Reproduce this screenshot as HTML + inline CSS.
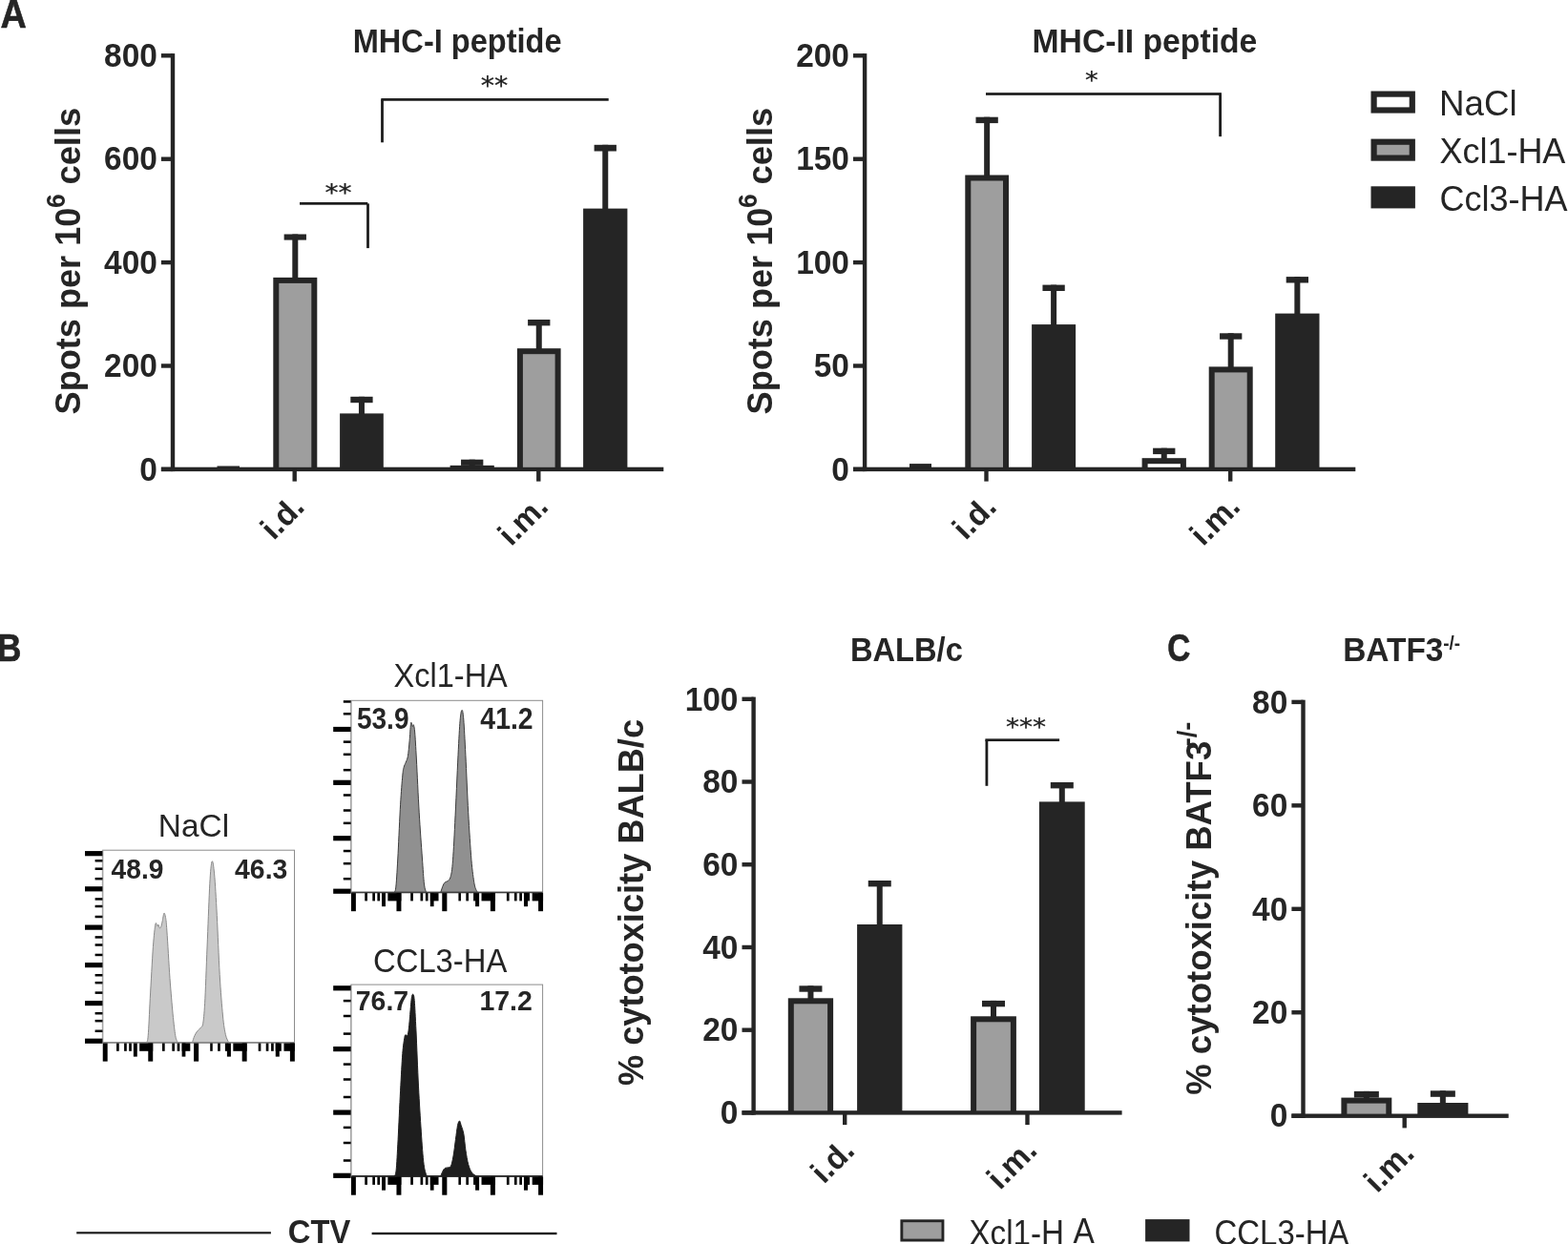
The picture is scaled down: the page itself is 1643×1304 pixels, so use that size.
<!DOCTYPE html>
<html lang="en">
<head>
<meta charset="utf-8">
<title>Figure</title>
<style>
html,body{margin:0;padding:0;background:#fff;}
body{width:1643px;height:1304px;overflow:hidden;}
svg{display:block;font-family:"Liberation Sans",sans-serif;}
</style>
</head>
<body>
<svg width="1643" height="1304" viewBox="0 0 1643 1304" role="img" aria-label="Figure panels A, B and C">
<rect width="1643" height="1304" fill="#ffffff"/>
<text transform="translate(0.43 28.70) scale(0.9692 1.0729)" font-size="39" font-weight="bold" fill="#252525" stroke="#252525" stroke-width="0.6" stroke-linejoin="round">A</text>
<text transform="translate(-3.28 692.80) scale(0.9125 1.0617)" font-size="39" font-weight="bold" fill="#252525" stroke="#252525" stroke-width="0.6" stroke-linejoin="round">B</text>
<text transform="translate(1223.32 692.54) scale(0.8549 1.0400)" font-size="39" font-weight="bold" fill="#252525" stroke="#252525" stroke-width="0.6" stroke-linejoin="round">C</text>
<rect x="178.80" y="56.10" width="4.40" height="438.00" fill="#252525"/>
<rect x="168.90" y="56.10" width="12.10" height="4.40" fill="#252525"/>
<text transform="translate(109.06 70.08) scale(1.0450 1.0889)" font-size="32" font-weight="bold" fill="#252525">800</text>
<rect x="168.90" y="164.50" width="12.10" height="4.40" fill="#252525"/>
<text transform="translate(109.06 178.48) scale(1.0450 1.0889)" font-size="32" font-weight="bold" fill="#252525">600</text>
<rect x="168.90" y="272.90" width="12.10" height="4.40" fill="#252525"/>
<text transform="translate(109.06 286.88) scale(1.0450 1.0889)" font-size="32" font-weight="bold" fill="#252525">400</text>
<rect x="168.90" y="381.30" width="12.10" height="4.40" fill="#252525"/>
<text transform="translate(109.06 395.28) scale(1.0450 1.0889)" font-size="32" font-weight="bold" fill="#252525">200</text>
<rect x="168.90" y="489.70" width="12.10" height="4.40" fill="#252525"/>
<text transform="translate(146.16 503.68) scale(1.0450 1.0889)" font-size="32" font-weight="bold" fill="#252525">0</text>
<rect x="168.90" y="489.70" width="526.40" height="4.40" fill="#252525"/>
<rect x="306.50" y="491.90" width="4.40" height="12.70" fill="#252525"/>
<rect x="562.10" y="491.90" width="4.40" height="12.70" fill="#252525"/>
<text transform="translate(369.71 55.15) scale(1.0182 1.0842)" font-size="32" font-weight="bold" fill="#252525">MHC-I peptide</text>
<text transform="translate(83.58 434.40) scale(1.0290 1.0033) rotate(-90)" font-size="36" font-weight="bold" fill="#252525">Spots per 10<tspan x="215.82" y="-15.21" font-size="26.29">6</tspan> <tspan x="240.10" y="0.55" font-size="36.21">cells</tspan></text>
<text transform="translate(286.63 567.18) scale(1.0421 1.0421) rotate(-45)" font-size="32" font-weight="bold" fill="#252525">i.d.</text>
<text transform="translate(535.49 573.58) scale(1.0407 1.0407) rotate(-45)" font-size="32" font-weight="bold" fill="#252525">i.m.</text>
<rect x="227.50" y="488.50" width="23.50" height="2.00" fill="#252525"/>
<rect x="297.65" y="245.50" width="23.30" height="6.10" fill="#252525"/>
<rect x="306.30" y="245.50" width="6.00" height="46.40" fill="#252525"/>
<rect x="286.30" y="290.90" width="46.00" height="201.00" fill="#252525"/>
<rect x="292.30" y="296.90" width="34.00" height="192.90" fill="#9e9e9e"/>
<rect x="367.30" y="415.80" width="23.30" height="6.40" fill="#252525"/>
<rect x="375.95" y="415.80" width="6.00" height="18.60" fill="#252525"/>
<rect x="356.10" y="433.40" width="45.70" height="58.50" fill="#252525"/>
<rect x="483.05" y="481.70" width="23.30" height="6.20" fill="#252525"/>
<rect x="491.70" y="481.70" width="6.00" height="7.20" fill="#252525"/>
<rect x="471.60" y="487.90" width="46.20" height="4.00" fill="#252525"/>
<rect x="553.10" y="335.00" width="23.30" height="6.40" fill="#252525"/>
<rect x="561.75" y="335.00" width="6.00" height="31.20" fill="#252525"/>
<rect x="541.90" y="365.20" width="45.70" height="126.70" fill="#252525"/>
<rect x="547.90" y="371.20" width="33.70" height="118.60" fill="#9e9e9e"/>
<rect x="622.60" y="151.80" width="23.30" height="6.70" fill="#252525"/>
<rect x="631.25" y="151.80" width="6.00" height="67.80" fill="#252525"/>
<rect x="611.10" y="218.60" width="46.30" height="273.30" fill="#252525"/>
<rect x="314.00" y="212.00" width="71.30" height="2.70" fill="#1c1c1c"/>
<rect x="384.10" y="213.40" width="2.80" height="46.70" fill="#1c1c1c"/>
<text transform="translate(340.53 209.64) scale(0.9704 0.8528)" font-size="29" font-weight="normal" fill="#1c1c1c" stroke="#1c1c1c" stroke-width="0.25" stroke-linejoin="round" style="font-family:'DejaVu Sans',sans-serif">**</text>
<rect x="399.30" y="103.05" width="238.40" height="2.70" fill="#1c1c1c"/>
<rect x="399.10" y="104.40" width="2.80" height="44.90" fill="#1c1c1c"/>
<text transform="translate(503.81 98.55) scale(0.9852 0.8906)" font-size="29" font-weight="normal" fill="#1c1c1c" stroke="#1c1c1c" stroke-width="0.25" stroke-linejoin="round" style="font-family:'DejaVu Sans',sans-serif">**</text>
<rect x="903.90" y="56.10" width="4.40" height="438.00" fill="#252525"/>
<rect x="894.00" y="56.10" width="12.10" height="4.40" fill="#252525"/>
<text transform="translate(834.16 70.08) scale(1.0450 1.0889)" font-size="32" font-weight="bold" fill="#252525">200</text>
<rect x="894.00" y="164.50" width="12.10" height="4.40" fill="#252525"/>
<text transform="translate(834.16 178.48) scale(1.0450 1.0889)" font-size="32" font-weight="bold" fill="#252525">150</text>
<rect x="894.00" y="272.90" width="12.10" height="4.40" fill="#252525"/>
<text transform="translate(834.16 286.88) scale(1.0450 1.0889)" font-size="32" font-weight="bold" fill="#252525">100</text>
<rect x="894.00" y="381.30" width="12.10" height="4.40" fill="#252525"/>
<text transform="translate(852.71 395.28) scale(1.0450 1.0889)" font-size="32" font-weight="bold" fill="#252525">50</text>
<rect x="894.00" y="489.70" width="12.10" height="4.40" fill="#252525"/>
<text transform="translate(871.26 503.68) scale(1.0450 1.0889)" font-size="32" font-weight="bold" fill="#252525">0</text>
<rect x="894.00" y="489.70" width="526.30" height="4.40" fill="#252525"/>
<rect x="1031.30" y="491.90" width="4.40" height="12.70" fill="#252525"/>
<rect x="1287.00" y="491.90" width="4.40" height="12.70" fill="#252525"/>
<text transform="translate(1081.53 55.15) scale(1.0532 1.0842)" font-size="32" font-weight="bold" fill="#252525">MHC-II peptide</text>
<text transform="translate(808.68 434.40) scale(1.0290 1.0033) rotate(-90)" font-size="36" font-weight="bold" fill="#252525">Spots per 10<tspan x="215.82" y="-15.21" font-size="26.29">6</tspan> <tspan x="240.10" y="0.55" font-size="36.21">cells</tspan></text>
<text transform="translate(1011.73 567.18) scale(1.0421 1.0421) rotate(-45)" font-size="32" font-weight="bold" fill="#252525">i.d.</text>
<text transform="translate(1260.59 573.58) scale(1.0407 1.0407) rotate(-45)" font-size="32" font-weight="bold" fill="#252525">i.m.</text>
<rect x="953.00" y="486.10" width="23.00" height="4.40" fill="#252525"/>
<rect x="1022.50" y="122.70" width="23.30" height="6.40" fill="#252525"/>
<rect x="1031.15" y="122.70" width="6.00" height="61.80" fill="#252525"/>
<rect x="1011.30" y="183.50" width="45.70" height="308.40" fill="#252525"/>
<rect x="1017.30" y="189.50" width="33.70" height="300.30" fill="#9e9e9e"/>
<rect x="1092.45" y="298.60" width="23.30" height="6.40" fill="#252525"/>
<rect x="1101.10" y="298.60" width="6.00" height="42.50" fill="#252525"/>
<rect x="1081.10" y="340.10" width="46.00" height="151.80" fill="#252525"/>
<rect x="1208.10" y="469.70" width="23.30" height="6.40" fill="#252525"/>
<rect x="1216.75" y="469.70" width="6.00" height="11.50" fill="#252525"/>
<rect x="1196.60" y="480.20" width="46.30" height="11.70" fill="#252525"/>
<rect x="1202.60" y="486.20" width="34.30" height="3.60" fill="#ffffff"/>
<rect x="1278.05" y="349.30" width="23.30" height="6.40" fill="#252525"/>
<rect x="1286.70" y="349.30" width="6.00" height="36.10" fill="#252525"/>
<rect x="1266.70" y="384.40" width="46.00" height="107.50" fill="#252525"/>
<rect x="1272.70" y="390.40" width="34.00" height="99.40" fill="#9e9e9e"/>
<rect x="1347.70" y="290.10" width="23.30" height="6.40" fill="#252525"/>
<rect x="1356.35" y="290.10" width="6.00" height="39.50" fill="#252525"/>
<rect x="1336.20" y="328.60" width="46.30" height="163.30" fill="#252525"/>
<rect x="1033.00" y="97.15" width="246.90" height="2.70" fill="#1c1c1c"/>
<rect x="1277.20" y="98.50" width="2.80" height="44.60" fill="#1c1c1c"/>
<text transform="translate(1136.96 92.04) scale(0.9440 0.8528)" font-size="29" font-weight="normal" fill="#1c1c1c" stroke="#1c1c1c" stroke-width="0.25" stroke-linejoin="round" style="font-family:'DejaVu Sans',sans-serif">*</text>
<rect x="1436.50" y="95.50" width="46.40" height="23.10" fill="#252525"/>
<rect x="1442.70" y="101.70" width="34.00" height="10.70" fill="#fff"/>
<rect x="1436.50" y="145.60" width="46.40" height="23.10" fill="#252525"/>
<rect x="1442.70" y="151.80" width="34.00" height="10.70" fill="#9e9e9e"/>
<rect x="1436.50" y="195.30" width="46.40" height="23.10" fill="#252525"/>
<text transform="translate(1507.94 120.70) scale(1.0201 1.0263)" font-size="36" font-weight="normal" fill="#252525">NaCl</text>
<text transform="translate(1508.40 170.80) scale(1.0000 1.0303)" font-size="36" font-weight="normal" fill="#252525">Xcl1-HA</text>
<text transform="translate(1508.45 220.50) scale(1.0000 1.0263)" font-size="36" font-weight="normal" fill="#252525">Ccl3-HA</text>
<rect x="107.60" y="891.20" width="200.90" height="201.70" fill="#fff" stroke="#8c8c8c" stroke-width="1"/>
<path d="M153.2,1092.9 C153.5,1091.7 154.6,1093.5 155.2,1085.7 C155.9,1077.9 156.5,1061.9 157.3,1046.3 C158.2,1030.8 159.5,1005.5 160.4,992.5 C161.4,979.6 162.2,972.3 162.9,968.7 C163.6,965.1 164.3,970.7 164.8,970.8 C165.3,970.9 165.6,969.0 166.0,969.3 C166.4,969.7 166.8,972.5 167.3,972.8 C167.7,973.2 168.2,972.6 168.7,971.4 C169.2,970.2 169.6,967.9 170.2,965.6 C170.7,963.3 171.3,958.0 171.8,957.3 C172.4,956.6 172.9,958.4 173.5,961.5 C174.0,964.6 174.2,965.3 174.9,976.0 C175.7,986.6 177.0,1011.2 178.0,1025.6 C179.1,1040.1 180.2,1052.9 181.1,1062.9 C182.1,1072.9 183.0,1080.7 183.8,1085.7 C184.7,1090.7 185.9,1091.7 186.3,1092.9 Z" fill="#c9c9c9" stroke="#8a8a8a" stroke-width="1" stroke-linejoin="round"/>
<path d="M201.4,1092.9 C201.8,1091.7 203.0,1087.7 203.9,1085.7 C204.8,1083.7 205.6,1082.5 206.6,1081.1 C207.6,1079.8 209.1,1078.9 210.1,1077.4 C211.2,1075.9 212.0,1077.4 212.8,1072.2 C213.6,1067.1 214.1,1061.0 214.9,1046.3 C215.6,1031.7 216.5,1004.2 217.4,984.2 C218.2,964.2 219.1,939.8 219.8,926.3 C220.6,912.7 221.3,904.8 222.1,903.1 C222.9,901.3 223.7,906.5 224.6,915.9 C225.5,925.3 226.4,941.8 227.3,959.4 C228.2,977.0 229.2,1003.9 230.2,1021.5 C231.2,1039.1 232.5,1054.5 233.5,1065.0 C234.5,1075.5 235.4,1080.0 236.4,1084.7 C237.4,1089.3 239.2,1091.6 239.7,1092.9 Z" fill="#c9c9c9" stroke="#8a8a8a" stroke-width="1" stroke-linejoin="round"/>
<rect x="107.60" y="1092.00" width="200.90" height="1.7" fill="#8a8a8a"/>
<rect x="106.80" y="891.20" width="1.5" height="201.70" fill="#a6a6a6"/>
<rect x="89.00" y="892.08" width="18.40" height="5.20" fill="#000"/>
<rect x="89.00" y="929.20" width="18.40" height="5.20" fill="#000"/>
<rect x="89.00" y="969.52" width="18.40" height="5.20" fill="#000"/>
<rect x="89.00" y="1009.00" width="18.40" height="5.20" fill="#000"/>
<rect x="89.00" y="1048.99" width="18.40" height="5.20" fill="#000"/>
<rect x="89.00" y="1088.64" width="18.40" height="5.20" fill="#000"/>
<rect x="99.60" y="901.02" width="7.80" height="2.50" fill="#000"/>
<rect x="99.60" y="909.46" width="7.80" height="2.50" fill="#000"/>
<rect x="99.60" y="919.92" width="7.80" height="2.50" fill="#000"/>
<rect x="99.60" y="941.18" width="7.80" height="2.50" fill="#000"/>
<rect x="99.60" y="948.77" width="7.80" height="2.50" fill="#000"/>
<rect x="99.60" y="959.74" width="7.80" height="2.50" fill="#000"/>
<rect x="99.60" y="981.16" width="7.80" height="2.50" fill="#000"/>
<rect x="99.60" y="989.26" width="7.80" height="2.50" fill="#000"/>
<rect x="99.60" y="999.72" width="7.80" height="2.50" fill="#000"/>
<rect x="99.60" y="1020.98" width="7.80" height="2.50" fill="#000"/>
<rect x="99.60" y="1028.91" width="7.80" height="2.50" fill="#000"/>
<rect x="99.60" y="1039.37" width="7.80" height="2.50" fill="#000"/>
<rect x="99.60" y="1060.97" width="7.80" height="2.50" fill="#000"/>
<rect x="99.60" y="1068.90" width="7.80" height="2.50" fill="#000"/>
<rect x="99.60" y="1079.53" width="7.80" height="2.50" fill="#000"/>
<rect x="107.73" y="1093.50" width="4.95" height="19.10" fill="#000"/>
<rect x="155.27" y="1093.50" width="4.95" height="19.10" fill="#000"/>
<rect x="203.07" y="1093.50" width="5.09" height="19.10" fill="#000"/>
<rect x="253.69" y="1093.50" width="4.95" height="19.10" fill="#000"/>
<rect x="303.90" y="1093.50" width="4.95" height="19.10" fill="#000"/>
<rect x="139.87" y="1093.50" width="3.88" height="14.10" fill="#000"/>
<rect x="190.62" y="1093.50" width="3.75" height="14.10" fill="#000"/>
<rect x="237.89" y="1093.50" width="4.02" height="14.10" fill="#000"/>
<rect x="288.77" y="1093.50" width="4.02" height="14.10" fill="#000"/>
<rect x="122.06" y="1093.50" width="2.68" height="8.30" fill="#000"/>
<rect x="130.10" y="1093.50" width="2.68" height="8.30" fill="#000"/>
<rect x="135.18" y="1093.50" width="2.68" height="8.30" fill="#000"/>
<rect x="146.16" y="1093.50" width="14.06" height="8.30" fill="#000"/>
<rect x="170.00" y="1093.50" width="2.68" height="8.30" fill="#000"/>
<rect x="180.31" y="1093.50" width="2.68" height="8.30" fill="#000"/>
<rect x="185.67" y="1093.50" width="2.68" height="8.30" fill="#000"/>
<rect x="190.62" y="1093.50" width="8.70" height="8.30" fill="#000"/>
<rect x="220.21" y="1093.50" width="2.54" height="8.30" fill="#000"/>
<rect x="228.11" y="1093.50" width="2.68" height="8.30" fill="#000"/>
<rect x="235.88" y="1093.50" width="2.68" height="8.30" fill="#000"/>
<rect x="244.32" y="1093.50" width="14.33" height="8.30" fill="#000"/>
<rect x="270.70" y="1093.50" width="2.68" height="8.30" fill="#000"/>
<rect x="278.73" y="1093.50" width="2.68" height="8.30" fill="#000"/>
<rect x="284.09" y="1093.50" width="2.68" height="8.30" fill="#000"/>
<rect x="288.77" y="1093.50" width="6.03" height="8.30" fill="#000"/>
<rect x="297.48" y="1093.50" width="11.38" height="8.30" fill="#000"/>
<text transform="translate(165.82 876.50) scale(1.0125 1.0330)" font-size="33" font-weight="normal" fill="#252525">NaCl</text>
<text transform="translate(116.58 920.72) scale(1.0431 1.1263)" font-size="27" font-weight="bold" fill="#252525">48.9</text>
<text transform="translate(246.07 920.72) scale(1.0510 1.1263)" font-size="27" font-weight="bold" fill="#252525">46.3</text>
<rect x="367.80" y="734.30" width="200.80" height="201.20" fill="#fff" stroke="#8c8c8c" stroke-width="1"/>
<path d="M413.0,935.5 C413.3,934.4 414.2,935.9 414.9,929.1 C415.6,922.3 416.3,909.0 417.1,894.7 C417.8,880.4 418.8,856.8 419.6,843.2 C420.4,829.6 421.2,819.6 421.8,813.1 C422.4,806.7 422.5,806.9 423.1,804.5 C423.6,802.2 424.5,801.1 425.2,799.2 C425.9,797.2 426.7,796.5 427.4,792.7 C428.0,789.0 428.6,782.2 429.1,776.6 C429.6,771.1 430.0,762.6 430.4,759.4 C430.7,756.3 430.9,757.4 431.2,757.7 C431.5,758.1 431.9,761.2 432.3,761.6 C432.7,762.0 433.0,758.8 433.4,759.9 C433.8,761.0 434.2,762.0 434.7,768.0 C435.2,774.0 435.6,782.0 436.4,796.0 C437.1,809.9 438.2,834.6 439.2,851.8 C440.2,869.0 441.5,886.5 442.4,899.0 C443.3,911.5 443.8,920.8 444.5,926.9 C445.3,933.0 446.3,934.1 446.7,935.5 Z" fill="#909090" stroke="#3c3c3c" stroke-width="1" stroke-linejoin="round"/>
<path d="M461.7,935.5 C462.1,934.3 463.5,929.8 464.3,928.0 C465.1,926.2 465.6,925.5 466.4,924.8 C467.3,924.0 468.3,924.4 469.2,923.5 C470.2,922.6 471.2,922.4 472.0,919.4 C472.8,916.4 473.4,914.9 474.2,905.5 C475.0,896.0 475.8,881.5 476.7,862.5 C477.7,843.5 479.1,809.6 480.0,791.7 C480.9,773.8 481.4,763.0 482.1,755.2 C482.8,747.3 483.4,744.6 484.0,744.4 C484.7,744.2 485.1,746.2 485.8,754.1 C486.4,762.0 487.1,775.4 487.9,791.7 C488.7,807.9 489.7,833.5 490.7,851.8 C491.7,870.0 492.9,888.6 493.9,901.2 C495.0,913.7 496.1,921.2 497.1,926.9 C498.2,932.7 499.8,934.1 500.4,935.5 Z" fill="#909090" stroke="#3c3c3c" stroke-width="1" stroke-linejoin="round"/>
<rect x="367.80" y="934.60" width="200.80" height="1.7" fill="#3c3c3c"/>
<rect x="367.00" y="734.30" width="1.5" height="201.20" fill="#a6a6a6"/>
<rect x="349.20" y="761.88" width="18.40" height="5.20" fill="#000"/>
<rect x="349.20" y="817.73" width="18.40" height="5.20" fill="#000"/>
<rect x="349.20" y="876.10" width="18.40" height="5.20" fill="#000"/>
<rect x="349.20" y="931.61" width="18.40" height="5.20" fill="#000"/>
<rect x="359.80" y="734.21" width="7.80" height="2.50" fill="#000"/>
<rect x="359.80" y="747.03" width="7.80" height="2.50" fill="#000"/>
<rect x="359.80" y="776.39" width="7.80" height="2.50" fill="#000"/>
<rect x="359.80" y="789.55" width="7.80" height="2.50" fill="#000"/>
<rect x="359.80" y="805.92" width="7.80" height="2.50" fill="#000"/>
<rect x="359.80" y="832.24" width="7.80" height="2.50" fill="#000"/>
<rect x="359.80" y="848.26" width="7.80" height="2.50" fill="#000"/>
<rect x="359.80" y="861.59" width="7.80" height="2.50" fill="#000"/>
<rect x="359.80" y="890.78" width="7.80" height="2.50" fill="#000"/>
<rect x="359.80" y="903.94" width="7.80" height="2.50" fill="#000"/>
<rect x="359.80" y="919.97" width="7.80" height="2.50" fill="#000"/>
<rect x="367.93" y="936.10" width="4.95" height="19.10" fill="#000"/>
<rect x="415.47" y="936.10" width="4.95" height="19.10" fill="#000"/>
<rect x="463.27" y="936.10" width="5.09" height="19.10" fill="#000"/>
<rect x="513.89" y="936.10" width="4.95" height="19.10" fill="#000"/>
<rect x="564.10" y="936.10" width="4.95" height="19.10" fill="#000"/>
<rect x="400.07" y="936.10" width="3.88" height="14.10" fill="#000"/>
<rect x="450.82" y="936.10" width="3.75" height="14.10" fill="#000"/>
<rect x="498.09" y="936.10" width="4.02" height="14.10" fill="#000"/>
<rect x="548.97" y="936.10" width="4.02" height="14.10" fill="#000"/>
<rect x="382.26" y="936.10" width="2.68" height="8.30" fill="#000"/>
<rect x="390.30" y="936.10" width="2.68" height="8.30" fill="#000"/>
<rect x="395.38" y="936.10" width="2.68" height="8.30" fill="#000"/>
<rect x="406.36" y="936.10" width="14.06" height="8.30" fill="#000"/>
<rect x="430.20" y="936.10" width="2.68" height="8.30" fill="#000"/>
<rect x="440.51" y="936.10" width="2.68" height="8.30" fill="#000"/>
<rect x="445.87" y="936.10" width="2.68" height="8.30" fill="#000"/>
<rect x="450.82" y="936.10" width="8.70" height="8.30" fill="#000"/>
<rect x="480.41" y="936.10" width="2.54" height="8.30" fill="#000"/>
<rect x="488.31" y="936.10" width="2.68" height="8.30" fill="#000"/>
<rect x="496.08" y="936.10" width="2.68" height="8.30" fill="#000"/>
<rect x="504.52" y="936.10" width="14.33" height="8.30" fill="#000"/>
<rect x="530.90" y="936.10" width="2.68" height="8.30" fill="#000"/>
<rect x="538.93" y="936.10" width="2.68" height="8.30" fill="#000"/>
<rect x="544.29" y="936.10" width="2.68" height="8.30" fill="#000"/>
<rect x="548.97" y="936.10" width="6.03" height="8.30" fill="#000"/>
<rect x="557.68" y="936.10" width="11.38" height="8.30" fill="#000"/>
<text transform="translate(412.56 720.10) scale(0.9854 1.0418)" font-size="33" font-weight="normal" fill="#252525">Xcl1-HA</text>
<text transform="translate(373.96 764.02) scale(1.0376 1.1316)" font-size="27" font-weight="bold" fill="#252525">53.9</text>
<text transform="translate(503.37 764.30) scale(1.0510 1.1467)" font-size="27" font-weight="bold" fill="#252525">41.2</text>
<rect x="367.80" y="1032.10" width="200.80" height="200.90" fill="#fff" stroke="#8c8c8c" stroke-width="1"/>
<path d="M413.0,1232.9 C413.3,1231.9 414.4,1233.3 415.1,1226.9 C415.8,1220.6 416.3,1208.7 417.1,1194.7 C417.8,1180.8 418.8,1158.2 419.6,1143.2 C420.4,1128.2 421.1,1113.8 421.8,1104.5 C422.5,1095.2 423.4,1090.7 423.9,1087.4 C424.5,1084.1 424.7,1085.1 425.2,1084.8 C425.7,1084.5 426.3,1086.3 426.7,1085.6 C427.2,1085.0 427.5,1084.2 428.0,1080.9 C428.5,1077.6 429.0,1071.6 429.5,1065.9 C430.0,1060.2 430.7,1050.5 431.2,1046.6 C431.8,1042.6 432.2,1041.9 432.7,1042.3 C433.2,1042.6 433.7,1042.3 434.2,1048.7 C434.8,1055.2 435.2,1065.9 436.0,1080.9 C436.7,1096.0 437.6,1121.4 438.5,1138.9 C439.4,1156.4 440.4,1172.5 441.3,1186.1 C442.2,1199.7 443.1,1212.7 444.1,1220.5 C445.1,1228.3 446.6,1230.9 447.1,1232.9 Z" fill="#1e1e1e" stroke="#1e1e1e" stroke-width="1" stroke-linejoin="round"/>
<path d="M461.7,1232.9 C462.1,1231.9 463.5,1228.4 464.3,1226.9 C465.1,1225.5 465.6,1224.9 466.4,1224.4 C467.3,1223.9 468.2,1224.3 469.2,1223.9 C470.2,1223.6 471.5,1224.2 472.5,1222.2 C473.4,1220.2 474.2,1216.5 475.0,1211.9 C475.9,1207.3 476.6,1200.1 477.4,1194.7 C478.1,1189.4 478.9,1183.0 479.5,1179.7 C480.2,1176.4 480.9,1175.0 481.5,1175.0 C482.1,1175.0 482.5,1177.5 483.2,1179.7 C483.9,1181.9 485.0,1184.0 485.8,1188.3 C486.6,1192.6 487.1,1200.1 487.9,1205.5 C488.7,1210.8 489.6,1216.6 490.7,1220.5 C491.8,1224.4 492.9,1227.0 494.4,1229.1 C495.8,1231.2 498.5,1232.3 499.3,1232.9 Z" fill="#1e1e1e" stroke="#1e1e1e" stroke-width="1" stroke-linejoin="round"/>
<rect x="367.80" y="1232.10" width="200.80" height="1.7" fill="#1e1e1e"/>
<rect x="367.00" y="1032.10" width="1.5" height="200.90" fill="#a6a6a6"/>
<rect x="349.20" y="1033.20" width="18.40" height="5.20" fill="#000"/>
<rect x="349.20" y="1097.00" width="18.40" height="5.20" fill="#000"/>
<rect x="349.20" y="1163.50" width="18.40" height="5.20" fill="#000"/>
<rect x="349.20" y="1229.70" width="18.40" height="5.20" fill="#000"/>
<rect x="359.80" y="1047.85" width="7.80" height="2.50" fill="#000"/>
<rect x="359.80" y="1063.75" width="7.80" height="2.50" fill="#000"/>
<rect x="359.80" y="1082.35" width="7.80" height="2.50" fill="#000"/>
<rect x="359.80" y="1114.35" width="7.80" height="2.50" fill="#000"/>
<rect x="359.80" y="1130.25" width="7.80" height="2.50" fill="#000"/>
<rect x="359.80" y="1148.75" width="7.80" height="2.50" fill="#000"/>
<rect x="359.80" y="1180.65" width="7.80" height="2.50" fill="#000"/>
<rect x="359.80" y="1196.75" width="7.80" height="2.50" fill="#000"/>
<rect x="359.80" y="1215.25" width="7.80" height="2.50" fill="#000"/>
<rect x="367.93" y="1233.60" width="4.95" height="19.10" fill="#000"/>
<rect x="415.47" y="1233.60" width="4.95" height="19.10" fill="#000"/>
<rect x="463.27" y="1233.60" width="5.09" height="19.10" fill="#000"/>
<rect x="513.89" y="1233.60" width="4.95" height="19.10" fill="#000"/>
<rect x="564.10" y="1233.60" width="4.95" height="19.10" fill="#000"/>
<rect x="400.07" y="1233.60" width="3.88" height="14.10" fill="#000"/>
<rect x="450.82" y="1233.60" width="3.75" height="14.10" fill="#000"/>
<rect x="498.09" y="1233.60" width="4.02" height="14.10" fill="#000"/>
<rect x="548.97" y="1233.60" width="4.02" height="14.10" fill="#000"/>
<rect x="382.26" y="1233.60" width="2.68" height="8.30" fill="#000"/>
<rect x="390.30" y="1233.60" width="2.68" height="8.30" fill="#000"/>
<rect x="395.38" y="1233.60" width="2.68" height="8.30" fill="#000"/>
<rect x="406.36" y="1233.60" width="14.06" height="8.30" fill="#000"/>
<rect x="430.20" y="1233.60" width="2.68" height="8.30" fill="#000"/>
<rect x="440.51" y="1233.60" width="2.68" height="8.30" fill="#000"/>
<rect x="445.87" y="1233.60" width="2.68" height="8.30" fill="#000"/>
<rect x="450.82" y="1233.60" width="8.70" height="8.30" fill="#000"/>
<rect x="480.41" y="1233.60" width="2.54" height="8.30" fill="#000"/>
<rect x="488.31" y="1233.60" width="2.68" height="8.30" fill="#000"/>
<rect x="496.08" y="1233.60" width="2.68" height="8.30" fill="#000"/>
<rect x="504.52" y="1233.60" width="14.33" height="8.30" fill="#000"/>
<rect x="530.90" y="1233.60" width="2.68" height="8.30" fill="#000"/>
<rect x="538.93" y="1233.60" width="2.68" height="8.30" fill="#000"/>
<rect x="544.29" y="1233.60" width="2.68" height="8.30" fill="#000"/>
<rect x="548.97" y="1233.60" width="6.03" height="8.30" fill="#000"/>
<rect x="557.68" y="1233.60" width="11.38" height="8.30" fill="#000"/>
<text transform="translate(391.06 1018.50) scale(0.9932 1.0505)" font-size="33" font-weight="normal" fill="#252525">CCL3-HA</text>
<text transform="translate(372.78 1059.02) scale(1.0527 1.1053)" font-size="27" font-weight="bold" fill="#252525">76.7</text>
<text transform="translate(502.45 1059.30) scale(1.0553 1.1200)" font-size="27" font-weight="bold" fill="#252525">17.2</text>
<rect x="80.20" y="1291.20" width="203.70" height="2.20" fill="#1c1c1c"/>
<rect x="389.60" y="1291.80" width="193.90" height="2.40" fill="#1c1c1c"/>
<text transform="translate(301.82 1302.83) scale(1.0224 1.0933)" font-size="32" font-weight="bold" fill="#252525">CTV</text>
<rect x="787.40" y="730.60" width="4.40" height="438.00" fill="#252525"/>
<rect x="777.50" y="730.60" width="12.10" height="4.40" fill="#252525"/>
<text transform="translate(717.66 744.58) scale(1.0450 1.0889)" font-size="32" font-weight="bold" fill="#252525">100</text>
<rect x="777.50" y="817.32" width="12.10" height="4.40" fill="#252525"/>
<text transform="translate(736.21 831.30) scale(1.0450 1.0889)" font-size="32" font-weight="bold" fill="#252525">80</text>
<rect x="777.50" y="904.04" width="12.10" height="4.40" fill="#252525"/>
<text transform="translate(736.21 918.02) scale(1.0450 1.0889)" font-size="32" font-weight="bold" fill="#252525">60</text>
<rect x="777.50" y="990.76" width="12.10" height="4.40" fill="#252525"/>
<text transform="translate(736.21 1004.74) scale(1.0450 1.0889)" font-size="32" font-weight="bold" fill="#252525">40</text>
<rect x="777.50" y="1077.48" width="12.10" height="4.40" fill="#252525"/>
<text transform="translate(736.21 1091.46) scale(1.0450 1.0889)" font-size="32" font-weight="bold" fill="#252525">20</text>
<rect x="777.50" y="1164.20" width="12.10" height="4.40" fill="#252525"/>
<text transform="translate(754.76 1178.18) scale(1.0450 1.0889)" font-size="32" font-weight="bold" fill="#252525">0</text>
<rect x="777.50" y="1164.20" width="398.10" height="4.40" fill="#252525"/>
<rect x="883.00" y="1166.40" width="4.40" height="12.70" fill="#252525"/>
<rect x="1074.30" y="1166.40" width="4.40" height="12.70" fill="#252525"/>
<text transform="translate(890.90 692.50) scale(1.0209 1.0773)" font-size="32" font-weight="bold" fill="#252525">BALB/c</text>
<text transform="translate(674.44 1138.11) scale(1.0481 1.0055) rotate(-90)" font-size="36" font-weight="bold" fill="#252525">% cytotoxicity BALB/c</text>
<text transform="translate(863.13 1241.88) scale(1.0421 1.0421) rotate(-45)" font-size="32" font-weight="bold" fill="#252525">i.d.</text>
<text transform="translate(1047.69 1248.28) scale(1.0407 1.0407) rotate(-45)" font-size="32" font-weight="bold" fill="#252525">i.m.</text>
<rect x="837.45" y="1033.30" width="24.00" height="6.40" fill="#252525"/>
<rect x="846.45" y="1033.30" width="6.00" height="14.00" fill="#252525"/>
<rect x="825.80" y="1046.30" width="47.30" height="120.10" fill="#252525"/>
<rect x="831.80" y="1052.30" width="35.30" height="112.00" fill="#9e9e9e"/>
<rect x="909.75" y="923.00" width="24.00" height="6.40" fill="#252525"/>
<rect x="918.75" y="923.00" width="6.00" height="47.00" fill="#252525"/>
<rect x="898.10" y="969.00" width="47.30" height="197.40" fill="#252525"/>
<rect x="1029.00" y="1048.90" width="24.00" height="6.40" fill="#252525"/>
<rect x="1038.00" y="1048.90" width="6.00" height="17.40" fill="#252525"/>
<rect x="1017.10" y="1065.30" width="47.80" height="101.10" fill="#252525"/>
<rect x="1023.10" y="1071.30" width="35.80" height="93.00" fill="#9e9e9e"/>
<rect x="1100.80" y="820.00" width="24.00" height="6.40" fill="#252525"/>
<rect x="1109.80" y="820.00" width="6.00" height="21.40" fill="#252525"/>
<rect x="1088.90" y="840.40" width="47.80" height="326.00" fill="#252525"/>
<rect x="1032.40" y="774.35" width="77.70" height="2.70" fill="#1c1c1c"/>
<rect x="1032.50" y="775.70" width="2.80" height="48.10" fill="#1c1c1c"/>
<text transform="translate(1054.03 769.52) scale(0.9687 0.8755)" font-size="29" font-weight="normal" fill="#1c1c1c" stroke="#1c1c1c" stroke-width="0.25" stroke-linejoin="round" style="font-family:'DejaVu Sans',sans-serif">***</text>
<rect x="943.40" y="1278.30" width="46.00" height="23.20" fill="#252525"/>
<rect x="946.30" y="1281.20" width="40.20" height="17.40" fill="#9e9e9e"/>
<text transform="translate(1015.48 1304.90) scale(0.9221 1.0303)" font-size="36" font-weight="normal" fill="#252525">Xcl1-H <tspan x="118.23" y="-1.75" font-size="36.28">A</tspan></text>
<rect x="1200.10" y="1278.10" width="46.40" height="23.30" fill="#252525"/>
<text transform="translate(1272.40 1304.90) scale(0.9169 1.0303)" font-size="36" font-weight="normal" fill="#252525">CCL3-HA</text>
<rect x="1363.30" y="733.70" width="4.40" height="438.20" fill="#252525"/>
<rect x="1353.40" y="733.70" width="12.10" height="4.40" fill="#252525"/>
<text transform="translate(1312.11 747.68) scale(1.0450 1.0889)" font-size="32" font-weight="bold" fill="#252525">80</text>
<rect x="1353.40" y="842.15" width="12.10" height="4.40" fill="#252525"/>
<text transform="translate(1312.11 856.13) scale(1.0450 1.0889)" font-size="32" font-weight="bold" fill="#252525">60</text>
<rect x="1353.40" y="950.60" width="12.10" height="4.40" fill="#252525"/>
<text transform="translate(1312.11 964.58) scale(1.0450 1.0889)" font-size="32" font-weight="bold" fill="#252525">40</text>
<rect x="1353.40" y="1059.05" width="12.10" height="4.40" fill="#252525"/>
<text transform="translate(1312.11 1073.03) scale(1.0450 1.0889)" font-size="32" font-weight="bold" fill="#252525">20</text>
<rect x="1353.40" y="1167.50" width="12.10" height="4.40" fill="#252525"/>
<text transform="translate(1330.66 1181.48) scale(1.0450 1.0889)" font-size="32" font-weight="bold" fill="#252525">0</text>
<rect x="1353.40" y="1167.50" width="227.30" height="4.40" fill="#252525"/>
<rect x="1469.50" y="1169.70" width="4.40" height="12.70" fill="#252525"/>
<text transform="translate(1407.15 692.50) scale(1.0458 1.0773)" font-size="32" font-weight="bold" fill="#252525">BATF3<tspan x="100.42" y="-10.34" font-size="18.11">-/-</tspan></text>
<text transform="translate(1269.11 1147.82) scale(1.0388 1.0160) rotate(-90)" font-size="36" font-weight="bold" fill="#252525">% cytotoxicity BATF3<tspan x="359.78" y="-15.66" font-size="26.84">-/-</tspan></text>
<text transform="translate(1442.89 1251.58) scale(1.0407 1.0407) rotate(-45)" font-size="32" font-weight="bold" fill="#252525">i.m.</text>
<rect x="1418.85" y="1143.90" width="26.00" height="6.70" fill="#252525"/>
<rect x="1428.85" y="1143.90" width="6.00" height="7.70" fill="#252525"/>
<rect x="1405.40" y="1150.60" width="52.90" height="19.10" fill="#252525"/>
<rect x="1411.40" y="1156.60" width="40.90" height="11.00" fill="#9e9e9e"/>
<rect x="1498.85" y="1143.30" width="26.00" height="6.50" fill="#252525"/>
<rect x="1508.85" y="1143.30" width="6.00" height="13.70" fill="#252525"/>
<rect x="1485.30" y="1156.00" width="53.10" height="13.70" fill="#252525"/>
</svg>
</body>
</html>
